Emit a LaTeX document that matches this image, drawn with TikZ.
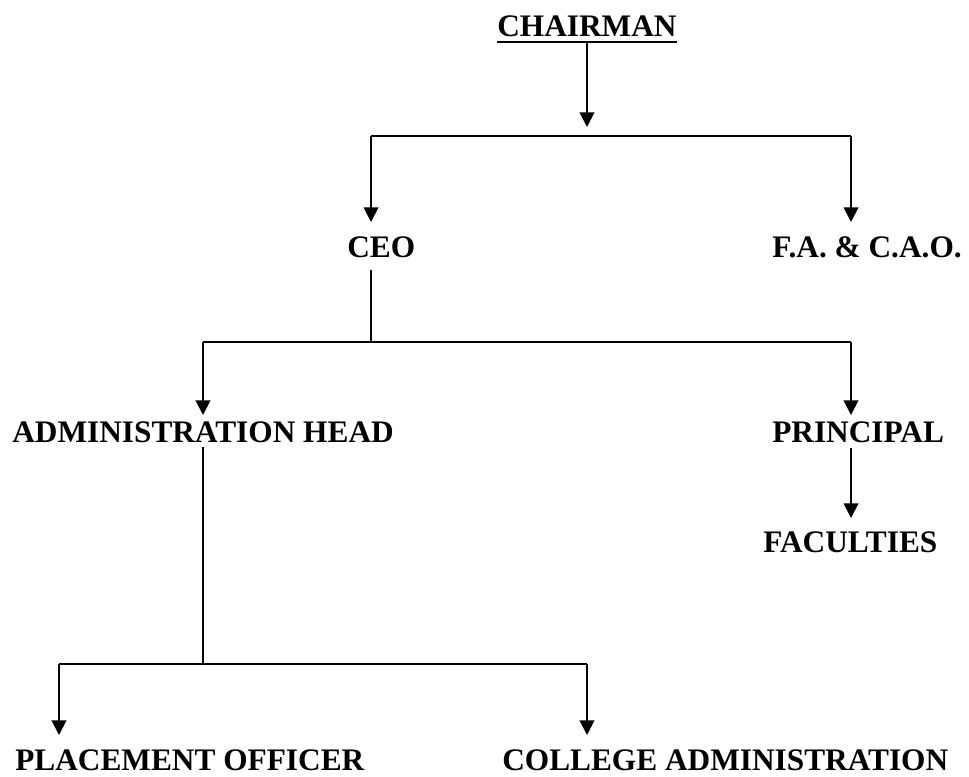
\documentclass[tikz,border=0pt]{standalone}
\usepackage{fontspec}
\setmainfont{Liberation Serif}
\usetikzlibrary{arrows.meta}
\begin{document}
\begin{tikzpicture}[x=0.75pt,y=-0.75pt,
  lbl/.style={font=\fontsize{23.5pt}{26pt}\selectfont\bfseries, inner sep=0pt, anchor=base west},
  ln/.style={line width=1.4pt, black},
  arr/.style={ln, -{Triangle[width=11pt,length=11pt]}}]
\useasboundingbox (0,0) rectangle (969,776);
% text nodes
\node[lbl] (chair) at (497,36) {CHAIRMAN};
\node[lbl] (ceo) at (347,257) {CEO};
\node[lbl] (fa) at (772,257) {F.A. \& C.A.O.};
\node[lbl] (admin) at (12,442) {ADMINISTRATION HEAD};
\node[lbl] (principal) at (772,442) {PRINCIPAL};
\node[lbl] (faculties) at (763,552) {FACULTIES};
\node[lbl] (placement) at (15,770) {PLACEMENT OFFICER};
\node[lbl] (college) at (502,770) {COLLEGE ADMINISTRATION};
% junction and tip coordinates
\coordinate (c0) at (587,42);
\coordinate (c0t) at (587,127);
\coordinate (b1l) at (371,136);
\coordinate (b1r) at (851,136);
\coordinate (ceot) at (371,222);
\coordinate (fat) at (851,222);
\coordinate (ceob) at (371,270);
\coordinate (b2m) at (371,342);
\coordinate (b2l) at (203,342);
\coordinate (b2r) at (851,342);
\coordinate (admt) at (203,415);
\coordinate (prt) at (851,415);
\coordinate (admb) at (203,447);
\coordinate (prb) at (851,448);
\coordinate (fact) at (851,518);
\coordinate (b3m) at (203,664);
\coordinate (b3l) at (59,664);
\coordinate (b3r) at (587,664);
\coordinate (plt) at (59,735);
\coordinate (colt) at (587,735);
% underline
\draw[line width=1.5pt] ([yshift=-3.9pt]chair.south west) -- ([yshift=-3.9pt]chair.south east);
% connectors
\draw[arr] (c0) -- (c0t);
\draw[ln] (b1l) -- (b1r);
\draw[arr] (b1l) -- (ceot);
\draw[arr] (b1r) -- (fat);
\draw[ln] (ceob) -- (b2m);
\draw[ln] (b2l) -- (b2r);
\draw[arr] (b2l) -- (admt);
\draw[arr] (b2r) -- (prt);
\draw[arr] (prb) -- (fact);
\draw[ln] (admb) -- (b3m);
\draw[ln] (b3l) -- (b3r);
\draw[arr] (b3l) -- (plt);
\draw[arr] (b3r) -- (colt);
\end{tikzpicture}
\end{document}
